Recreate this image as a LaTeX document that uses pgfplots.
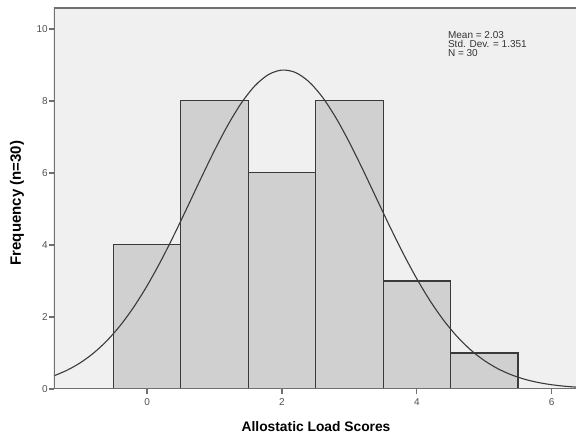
\documentclass[border=0pt]{standalone}
\usepackage{fontspec}
\setmainfont{Liberation Sans}
\usepackage{pgfplots}
\pgfplotsset{compat=1.18}
\definecolor{bg}{HTML}{F0F0F0}
\definecolor{barfill}{HTML}{D0D0D0}
\definecolor{edge}{HTML}{3A3A3A}
\definecolor{axisgray}{HTML}{707070}
\definecolor{ticktext}{HTML}{505050}
\begin{document}
\begin{tikzpicture}
\begin{axis}[
  scale only axis, width=522pt, height=381pt,
  xmin=-1.38, xmax=6.36, ymin=0, ymax=10.58,
  axis background/.style={fill=bg},
  axis line style={draw=none},
  xtick={0,2,4,6}, ytick={0,2,4,6,8,10},
  xtick pos=bottom, ytick pos=left,
  tick align=outside, major tick length=5pt,
  tick style={axisgray, line width=1.3pt},
  tick label style={font=\fontsize{10}{11}\selectfont, text=ticktext},
  yticklabel style={inner sep=1pt},
  xticklabel style={inner sep=1pt, yshift=-3pt},
  /pgf/number format/assume math mode=true,
  xlabel={\textbf{Allostatic Load Scores}},
  ylabel={\textbf{Frequency (n=30)}},
  x label style={font=\fontsize{13.8}{15}\selectfont, at={(axis description cs:0.502,-0.0997)}, anchor=center},
  y label style={font=\fontsize{15}{16}\selectfont, at={(axis description cs:-0.071,0.488)}, anchor=center},
]
\addplot[ybar interval, fill=barfill, draw=edge, line width=1.1pt] coordinates {
  (-0.5,4) (0.5,8) (1.5,6) (2.5,8) (3.5,3) (4.5,1) (5.5,1)
};
\addplot[smooth, draw=edge, line width=1.1pt, no marks] coordinates {
  (-1.4,0.3529) (-1.2,0.5085) (-1.0,0.7163) (-0.8,0.9874) (-0.6,1.3319)
  (-0.4,1.7574) (-0.2,2.2687) (0.0,2.8649) (0.2,3.5395) (0.4,4.2786)
  (0.6,5.0595) (0.8,5.8535) (1.0,6.6245) (1.2,7.3354) (1.4,7.9462)
  (1.6,8.4213) (1.8,8.7313) (2.0,8.8566) (2.2,8.7889) (2.4,8.5327)
  (2.6,8.1044) (2.8,7.5308) (3.0,6.8460) (3.2,6.0886) (3.4,5.2979)
  (3.6,4.5097) (3.8,3.7553) (4.0,3.0598) (4.2,2.4387) (4.4,1.9015)
  (4.6,1.4509) (4.8,1.0827) (5.0,0.7904) (5.2,0.5647) (5.4,0.3947)
  (5.6,0.2698) (5.8,0.1805) (6.0,0.1182) (6.2,0.0756) (6.4,0.0474)
};
\draw[axisgray, line width=2pt] (rel axis cs:1,0) -- (rel axis cs:0,0) -- (rel axis cs:0,1) -- (rel axis cs:1,1);
\node[anchor=north west, inner sep=0pt, align=left, font=\fontsize{10}{9}\selectfont, text=black!80]
  at (axis cs:4.46,9.94) {Mean = 2.03\\Std. Dev. = 1.351\\N = 30};
\coordinate (sw) at (rel axis cs:0,0);
\coordinate (ne) at (rel axis cs:1,1);
\end{axis}
\pgfresetboundingbox
\path ([xshift=-54pt,yshift=-49pt]sw) rectangle ([yshift=8pt]ne);
\end{tikzpicture}
\end{document}
